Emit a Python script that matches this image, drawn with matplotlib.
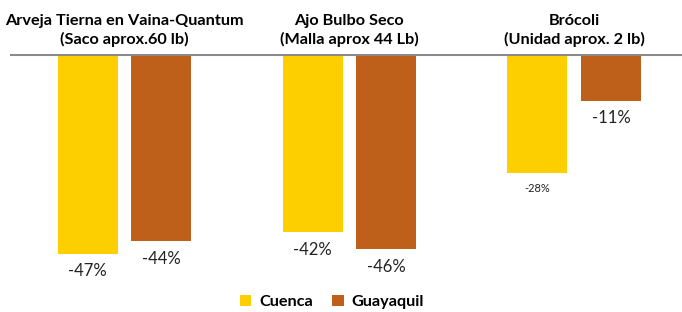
import matplotlib.pyplot as plt
import numpy as np

productos = ['Arveja Tierna en Vaina-Quantum\n(Saco aprox.60 lb)',
             'Ajo Bulbo Seco\n(Malla aprox 44 Lb)',
             'Brócoli\n(Unidad aprox. 2 lb)']
cuenca = [-47, -42, -28]
guayaquil = [-44, -46, -11]

amarillo = '#FDCF00'
cafe = '#BF601A'
fuente = ['Lato', 'DejaVu Sans']

fig = plt.figure(figsize=(6.82, 3.12), dpi=100)
ax = fig.add_axes([10/682, 1-280/312, 1-10/682, 226/312])

x = np.arange(len(productos))
ancho = 0.267
b1 = ax.bar(x - 0.164, cuenca, ancho, color=amarillo, label='Cuenca')
b2 = ax.bar(x + 0.164, guayaquil, ancho, color=cafe, label='Guayaquil')

ax.set_xlim(-0.51, 2.48)
ax.set_ylim(-53.2, 0)
ax.axhline(0, color='#8a8a8a', lw=2.2)
ax.axis('off')

# etiquetas de valores
for i, v in enumerate(cuenca):
    tam = 8 if i == 2 else 12
    ax.annotate(f'{v}%', (x[i] - 0.164, v), xytext=(0, -7), textcoords='offset points',
                ha='center', va='top', fontsize=tam, color='#222222', family=fuente)
for i, v in enumerate(guayaquil):
    ax.annotate(f'{v}%', (x[i] + 0.164, v), xytext=(0, -7), textcoords='offset points',
                ha='center', va='top', fontsize=12, color='#222222', family=fuente)

# titulos de cada grupo
for i, t in enumerate(productos):
    ax.annotate(t, (x[i], 0), xytext=(0, 5), textcoords='offset points',
                ha='center', va='bottom', fontsize=11.7, fontweight='bold',
                family=fuente, linespacing=1.3, annotation_clip=False)

fig.legend(handles=[b1, b2], loc='center', bbox_to_anchor=(332/682, 1-302/312),
           ncol=2, frameon=False, handlelength=0.7, handleheight=0.7,
           handletextpad=0.5, columnspacing=1.2,
           prop={'family': fuente, 'weight': 'bold', 'size': 11.7})

plt.savefig('out.png', dpi=100)
